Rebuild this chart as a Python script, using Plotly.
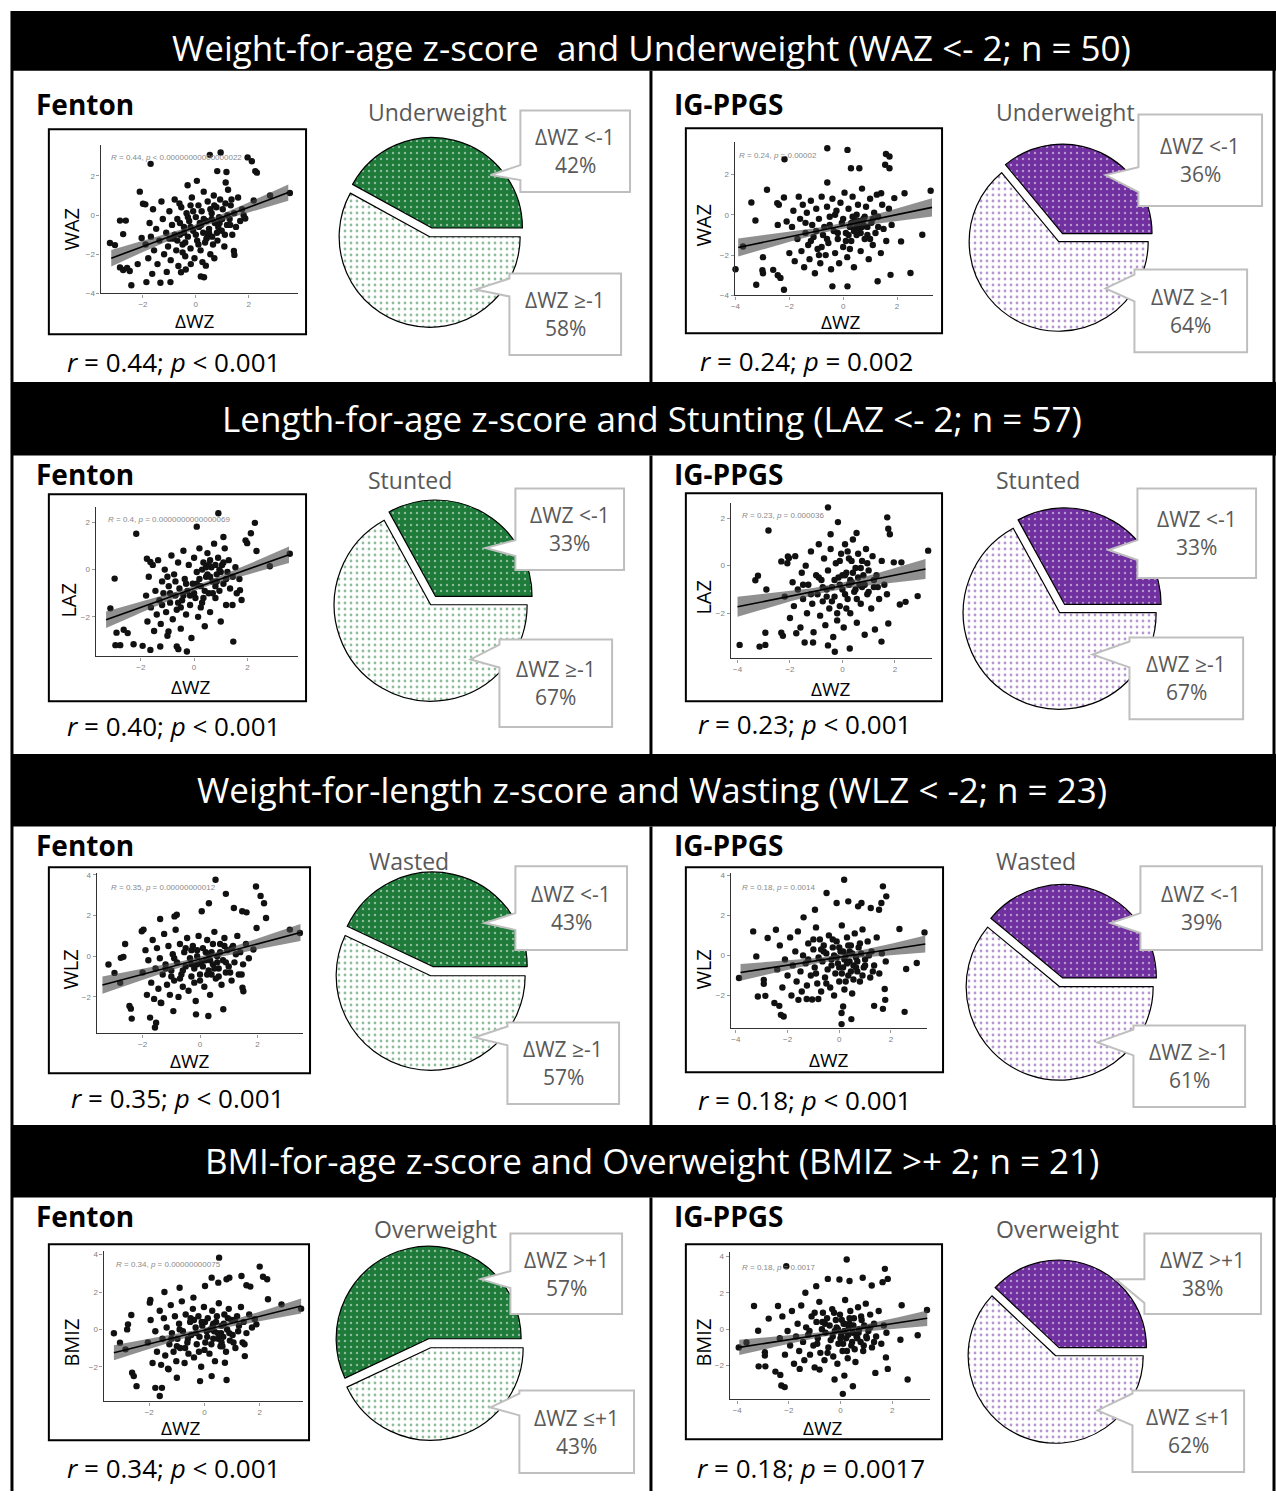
import numpy as np
import plotly.graph_objects as go

W, H = 1276, 1496

# ----------------------------- DATA -----------------------------
section_titles = [
    "Weight-for-age z-score&nbsp; and Underweight (WAZ &lt;- 2; n = 50)",
    "Length-for-age z-score and Stunting (LAZ &lt;- 2; n = 57)",
    "Weight-for-length z-score and Wasting (WLZ &lt; -2; n = 23)",
    "BMI-for-age z-score and Overweight (BMIZ &gt;+ 2; n = 21)",
]
panel_names = ["Fenton", "IG-PPGS"]
outcomes = ["WAZ", "LAZ", "WLZ", "BMIZ"]
pie_titles = ["Underweight", "Stunted", "Wasted", "Overweight"]
low_labels = ["ΔWZ &lt;-1", "ΔWZ &lt;-1", "ΔWZ &lt;-1", "ΔWZ &gt;+1"]
high_labels = ["ΔWZ ≥-1", "ΔWZ ≥-1", "ΔWZ ≥-1", "ΔWZ ≤+1"]
fenton_share = [42, 33, 43, 57]
ig_share = [36, 33, 39, 38]
fenton_stats = ["<i>r</i> = 0.44; <i>p</i> &lt; 0.001", "<i>r</i> = 0.40; <i>p</i> &lt; 0.001",
                "<i>r</i> = 0.35; <i>p</i> &lt; 0.001", "<i>r</i> = 0.34; <i>p</i> &lt; 0.001"]
ig_stats = ["<i>r</i> = 0.24; <i>p</i> = 0.002", "<i>r</i> = 0.23; <i>p</i> &lt; 0.001",
            "<i>r</i> = 0.18; <i>p</i> &lt; 0.001", "<i>r</i> = 0.18; <i>p</i> = 0.0017"]
fenton_R = ["<i>R</i> = 0.44, <i>p</i> &lt; 0.00000000000000022", "<i>R</i> = 0.4, <i>p</i> = 0.0000000000000069",
            "<i>R</i> = 0.35, <i>p</i> = 0.00000000012", "<i>R</i> = 0.34, <i>p</i> = 0.00000000075"]
ig_R = ["<i>R</i> = 0.24, <i>p</i> = 0.00002", "<i>R</i> = 0.23, <i>p</i> = 0.000036",
        "<i>R</i> = 0.18, <i>p</i> = 0.0014", "<i>R</i> = 0.18, <i>p</i> = 0.0017"]

# regression lines: [x_start, y_start, x_end, y_end]
fenton_fit = [[-3.2, -2.2, 3.5, 1.15], [-3.3, -2.12, 3.56, 0.63],
              [-3.4, -1.42, 3.5, 1.17], [-3.28, -1.25, 3.5, 1.25]]
ig_fit = [[-3.9, -1.62, 3.3, 0.37], [-4.0, -1.73, 3.17, -0.14],
          [-3.82, -0.85, 3.33, 0.57], [-3.92, -1.0, 3.36, 0.6]]
# confidence band half-width [at ends, at centre]
fenton_band = [[0.42, 0.12], [0.35, 0.1], [0.42, 0.12], [0.4, 0.12]]
ig_band = [[0.45, 0.14], [0.42, 0.13], [0.42, 0.12], [0.42, 0.12]]

# scatter points (ΔWZ, z-score)
fenton_waz = [
    (-3.25,-1.42),(-3.06,-1.53),(-2.87,-0.28),(-2.65,-0.28),(-2.75,-0.97),(-2.87,-2.67),(-2.75,-2.8),
    (-2.6,-2.7),(-2.5,-2.85),(-2.44,-3.58),(-2.12,1.2),(-2.0,0.58),(-1.91,0.55),(-2.2,-2.5),(-2.05,-1.17),
    (-1.87,-3.42),(-1.65,-3.0),(-1.34,-3.45),(-0.96,-3.42),(-0.56,-2.92),(-0.38,-2.78),(-0.19,-2.5),
    (0.19,-3.13),(0.31,-3.17),(0.38,-2.58),(1.44,-1.83),(1.46,-2.03),(1.81,0.0),(1.87,-0.17),(2.19,0.75),
    (2.81,1.0),(3.56,1.13),(-1.71,2.62),(0.53,3.08),(0.94,3.2),(1.96,2.95),(2.12,2.75),(2.25,2.25),
    (2.31,2.17),(0.81,2.25),(1.16,2.2),(1.13,1.67),(-0.31,1.53),(0.04,1.75),
    (-1.9,-1.5),(-1.8,-2.2),(-1.75,-0.4),(-1.7,-1.1),(-1.62,0.3),(-1.58,-1.8),(-1.5,-0.7),(-1.45,-2.5),
    (-1.38,-1.3),(-1.3,0.7),(-1.25,-0.2),(-1.2,-2.0),(-1.12,-0.9),(-1.05,-1.6),(-1.0,0.2),(-0.95,-2.3),
    (-0.9,-0.5),(-0.85,-1.2),(-0.8,0.8),(-0.74,-1.8),(-0.7,-0.2),(-0.66,-2.6),(-0.6,-1.0),(-0.55,0.4),
    (-0.5,-1.5),(-0.45,-0.6),(-0.4,-2.1),(-0.35,0.1),(-0.3,-1.1),(-0.25,-0.3),(-0.2,-1.7),(-0.15,0.9),
    (-0.1,-0.8),(-0.05,-2.2),(0.0,-0.1),(0.05,-1.3),(0.1,0.5),(0.12,-0.6),(0.18,-1.8),(0.22,0.2),
    (0.28,-0.9),(0.3,1.2),(0.35,-1.4),(0.4,-0.3),(0.45,0.7),(0.5,-0.7),(0.55,-2.0),(0.6,0.1),(0.62,-1.1),
    (0.68,1.0),(0.72,-0.4),(0.78,0.4),(0.82,-1.3),(0.88,-0.1),(0.92,0.8),(0.98,-0.8),(1.02,0.3),
    (1.08,-1.6),(1.12,0.6),(1.18,-0.5),(1.22,1.3),(1.28,-0.2),(1.32,0.5),(1.38,-1.0),(1.45,0.1),
    (1.52,-0.6),(1.6,0.9),(1.68,-0.3),(1.75,0.3),(-0.62,0.6),(0.25,-2.4),(-1.1,-2.9),(0.7,-2.2),
    (-0.2,0.5),(0.85,-0.6),(0.45,-1.1),(-0.45,-0.9),(0.15,-0.4),(0.55,0.3),
    (-0.8,-1.0),(-0.6,-0.4),(-0.4,-1.4),(-0.2,-0.6),(0.0,-1.0),(0.2,-0.5),(0.4,-1.2),(0.6,-0.2),
    (0.8,-0.9),(1.0,-0.2),(1.2,0.0),(-1.0,-1.2),(-0.3,-0.1),(0.1,-1.5),(0.5,-0.9),(0.7,0.5),(0.9,-0.4),
    (1.1,-1.0),(1.3,-0.5),(-0.5,-1.9),(-0.1,0.2),(0.3,-0.2),(-0.7,-1.3),(0.65,-1.5),(1.35,0.8),
]
ig_waz = [
    (-4.0,-2.7),(-3.72,-1.57),(-3.41,0.61),(-3.26,-0.28),(-3.23,-3.47),(-2.98,-2.1),(-3.0,-2.75),
    (-2.98,-2.9),(-2.83,1.24),(-2.6,-2.73),(-2.43,-3.0),(-2.33,-3.13),(-2.2,-3.72),(-2.18,2.76),
    (-2.45,0.58),(-2.39,0.5),(-2.2,0.86),(-2.1,-0.33),(-2.43,-0.5),(-0.59,3.3),(0.16,3.22),(-0.59,1.6),
    (0.29,2.31),(0.6,2.31),(1.59,3.02),(1.72,2.89),(1.56,2.48),(1.72,2.31),(2.28,1.07),(2.15,-1.32),
    (2.94,-0.99),(2.5,-2.89),(1.76,-2.98),(1.28,-3.3),(-0.4,-3.55),(0.16,-3.55),(3.25,1.19),(1.9,0.83),
    (1.41,1.07),
    (-2.0,-1.9),(-1.9,-0.6),(-1.85,0.2),(-1.8,-2.3),(-1.7,-1.2),(-1.65,0.9),(-1.6,-0.2),(-1.55,-1.8),
    (-1.5,0.5),(-1.45,-2.6),(-1.4,-0.9),(-1.35,0.1),(-1.3,-1.5),(-1.25,-2.2),(-1.2,0.7),(-1.15,-0.5),
    (-1.1,-1.1),(-1.05,-2.9),(-1.0,0.3),(-0.95,-1.7),(-0.9,-0.2),(-0.85,-2.4),(-0.8,0.9),(-0.75,-1.0),
    (-0.7,-0.6),(-0.65,-2.0),(-0.6,0.4),(-0.55,-1.4),(-0.5,-0.1),(-0.45,-2.7),(-0.4,0.8),(-0.35,-0.8),
    (-0.3,-1.9),(-0.25,0.2),(-0.2,-1.2),(-0.15,-2.4),(-0.1,0.6),(-0.05,-0.4),(0.0,-1.6),(0.05,1.1),
    (0.1,-0.9),(0.15,-2.1),(0.2,0.3),(0.25,-0.6),(0.3,-1.3),(0.35,0.9),(0.4,-2.6),(0.45,-0.3),(0.5,-1.0),
    (0.55,0.5),(0.6,-0.7),(0.65,-1.8),(0.7,1.3),(0.75,-0.2),(0.8,-1.2),(0.85,0.4),(0.9,-0.6),(0.95,-2.2),
    (1.0,0.8),(1.05,-0.4),(1.1,-1.5),(1.15,0.1),(1.2,-0.9),(1.25,1.0),(1.3,-0.1),(1.4,-1.9),(1.45,0.5),
    (1.5,-0.7),(1.6,-1.3),(1.7,0.3),(1.8,-0.5),(0.5,-0.5),(0.6,-0.3),(0.7,-0.6),(0.4,-0.8),
    (-1.2,-1.3),(-0.8,-1.6),(-0.5,-0.5),(-0.2,-0.9),(0.0,-0.2),(0.2,-1.0),(0.3,-0.4),(0.45,-0.7),
    (0.55,-0.4),(0.65,-0.9),(0.75,-0.5),(0.9,-1.0),(1.1,-0.2),(-1.0,-0.8),(-0.6,-1.2),(-0.3,0.0),
    (0.1,-1.3),(0.35,-0.1),(0.8,-0.1),(1.3,-0.6),(-1.4,-0.4),(-0.9,-2.0),(0.25,-1.7),(1.0,-1.2),(0.5,0.0),
]
fenton_laz = [
    (-2.98,-0.38),(-3.14,-1.64),(-2.95,-3.2),(-2.77,-3.2),(-2.91,-2.67),(-2.64,-2.55),(-2.49,-2.69),
    (-2.27,-3.16),(-1.93,-3.23),(-2.17,1.52),(0.1,1.82),(0.91,2.39),(2.28,1.98),(2.13,1.54),(1.93,1.24),
    (1.99,1.12),(1.47,-3.05),(2.34,0.79),(2.84,0.14),(3.59,0.67),(-0.65,-3.26),(-0.59,-3.37),(-0.27,-3.47),
    (-1.64,-3.4),(-1.27,-3.26),(-0.96,-2.62),(-1.77,0.46),(-1.64,0.32),(1.1,1.38),(1.72,-0.87),
    (1.78,-1.29),(1.44,-1.5),
    (-1.8,-1.1),(-1.75,-2.2),(-1.7,-0.3),(-1.62,-1.6),(-1.55,0.2),(-1.5,-2.6),(-1.45,-0.9),(-1.4,-1.9),
    (-1.35,0.4),(-1.3,-1.3),(-1.25,-2.3),(-1.2,-0.5),(-1.15,-1.0),(-1.1,0.0),(-1.05,-1.8),(-1.0,-2.8),
    (-0.95,-0.7),(-0.9,-1.4),(-0.85,0.6),(-0.8,-2.1),(-0.75,-0.2),(-0.7,-1.1),(-0.65,-1.7),(-0.6,0.3),
    (-0.55,-0.8),(-0.5,-2.5),(-0.45,-1.3),(-0.4,0.8),(-0.35,-0.4),(-0.3,-1.9),(-0.25,-0.9),(-0.2,0.2),
    (-0.15,-1.5),(-0.1,-2.9),(-0.05,-0.6),(0.0,0.5),(0.05,-1.2),(0.1,-0.1),(0.15,-2.0),(0.2,0.9),
    (0.25,-0.7),(0.3,-1.4),(0.35,0.3),(0.4,-2.4),(0.45,-0.3),(0.5,0.7),(0.55,-1.0),(0.6,-1.8),(0.65,0.1),
    (0.7,-0.5),(0.75,1.1),(0.8,-1.2),(0.85,-0.2),(0.9,0.5),(0.95,-0.9),(1.0,-2.2),(1.05,0.2),(1.1,-0.6),
    (1.15,0.9),(1.2,-1.5),(1.25,-0.1),(1.3,0.4),(1.35,-0.8),(1.45,-0.3),(1.55,0.1),(1.6,-1.0),(1.7,-0.4),
    (0.3,0.0),(0.5,-0.2),(0.8,0.2),(0.6,0.4),
    (-0.9,-1.0),(-0.6,-1.4),(-0.3,-0.6),(0.0,-1.0),(0.2,-0.4),(0.4,-0.9),(0.6,-0.3),(0.8,-0.7),
    (1.0,-0.1),(-1.2,-1.5),(-0.4,-1.1),(0.1,-0.6),(0.35,-1.2),(0.55,0.2),(0.7,-1.0),(0.95,0.0),
    (1.2,-0.4),(-0.7,-0.5),(-0.15,-1.1),(0.45,0.1),(0.85,-0.5),(-1.0,-0.3),(0.25,-1.6),(1.1,0.3),(-0.5,-1.6),
]
ig_laz = [
    (-3.92,-3.33),(-3.32,-0.61),(-3.22,-0.42),(-3.16,-3.4),(-2.94,-3.33),(-2.82,1.48),(-2.9,-1.0),
    (-2.94,-2.82),(-2.33,0.18),(-2.08,0.39),(-2.04,0.32),(-0.55,2.45),(-0.17,1.83),(-0.45,1.32),
    (0.54,1.37),(1.71,2.03),(1.75,1.55),(1.81,1.32),(3.27,0.63),(1.96,0.14),(2.25,0.14),(2.87,-1.28),
    (2.41,-1.52),(2.19,-1.63),(1.75,-2.43),(1.49,-3.19),(1.24,-2.68),(-0.55,-3.35),(-0.29,-3.62),
    (0.28,-3.48),(-1.12,-3.23),(-1.44,-3.23),(-1.76,-2.84),(-2.33,-2.82),(-2.27,-2.95),
    (-2.2,-1.3),(-2.1,0.1),(-2.0,-2.2),(-1.9,-0.7),(-1.85,-1.7),(-1.8,0.4),(-1.7,-1.0),(-1.6,-2.6),
    (-1.55,-0.3),(-1.5,-1.4),(-1.4,0.0),(-1.35,-2.0),(-1.3,-0.8),(-1.2,0.6),(-1.15,-1.6),(-1.1,-2.8),
    (-1.0,-0.4),(-0.95,-1.2),(-0.9,0.9),(-0.85,-2.1),(-0.8,-0.6),(-0.75,-1.5),(-0.7,0.3),(-0.65,-2.5),
    (-0.6,-1.0),(-0.55,-0.2),(-0.5,-1.8),(-0.45,0.7),(-0.4,-0.9),(-0.35,-3.0),(-0.3,-1.3),(-0.25,0.1),
    (-0.2,-2.3),(-0.15,-0.5),(-0.1,-1.7),(-0.05,0.5),(0.0,-1.0),(0.05,-2.6),(0.1,0.9),(0.15,-0.3),
    (0.2,-1.4),(0.25,0.3),(0.3,-2.0),(0.35,-0.7),(0.4,1.1),(0.45,-1.1),(0.5,-0.1),(0.55,-2.4),(0.6,0.5),
    (0.65,-0.8),(0.7,-1.6),(0.75,0.2),(0.8,-0.4),(0.85,-2.9),(0.9,0.7),(0.95,-1.2),(1.0,-0.2),
    (1.1,-1.8),(1.15,0.4),(1.2,-0.9),(1.3,-0.4),(1.4,-1.4),(1.5,0.2),(1.6,-0.8),(1.7,-1.2),(0.1,-0.4),
    (0.3,-0.6),(-0.1,0.2),(0.2,0.6),
    (-1.2,-1.2),(-0.9,-0.5),(-0.6,-1.3),(-0.3,-0.6),(0.0,-0.4),(0.1,-1.2),(0.25,-0.8),(0.4,-0.3),
    (0.5,-1.0),(0.6,-0.5),(0.7,-0.1),(0.85,-0.8),(1.0,-1.1),(-1.5,-0.8),(-0.75,-0.9),(-0.4,-1.5),
    (-0.1,-0.8),(0.35,0.2),(0.55,-1.4),(0.75,-0.9),(0.95,0.1),(1.2,-0.6),(-0.2,-2.0),(0.15,-1.8),(1.35,-0.9),
]
fenton_wlz = [
    (-3.19,-0.41),(-2.98,-0.82),(-2.78,-1.31),(-2.76,-0.08),(-2.67,-0.03),(-2.61,0.6),(-2.46,-2.45),
    (-2.41,-2.58),(-2.38,-3.07),(-2.03,1.23),(-1.97,1.31),(-1.74,-3.02),(-1.53,-3.27),(-1.57,-3.51),
    (-1.39,1.83),(-0.89,1.96),(-0.81,2.04),(0.54,3.76),(0.9,3.07),(0.31,2.61),(0.06,2.21),(1.18,2.37),
    (1.47,2.21),(1.62,2.16),(1.95,3.43),(2.11,2.97),(2.23,2.61),(2.3,1.88),(3.13,1.31),(3.48,1.14),
    (1.86,0.33),(1.97,1.39),(1.48,-1.55),(1.51,-1.72),(0.81,-2.61),(0.29,-2.94),(-0.14,-2.86),
    (-0.93,-2.7),(-1.37,-2.29),
    (-2.0,-0.8),(-1.9,0.3),(-1.85,-1.9),(-1.8,-0.2),(-1.7,-1.3),(-1.65,0.8),(-1.6,-2.1),(-1.55,-0.6),
    (-1.5,0.4),(-1.45,-1.6),(-1.4,-0.1),(-1.35,-2.3),(-1.3,-0.9),(-1.25,1.1),(-1.2,-0.4),(-1.15,-1.4),
    (-1.1,0.5),(-1.05,-1.9),(-1.0,-0.7),(-0.95,0.1),(-0.9,-1.2),(-0.85,1.3),(-0.8,-0.3),(-0.75,-2.0),
    (-0.7,0.6),(-0.65,-0.9),(-0.6,-1.5),(-0.55,0.2),(-0.5,-0.5),(-0.45,0.9),(-0.4,-1.7),(-0.35,-0.1),
    (-0.3,-1.0),(-0.25,0.5),(-0.2,-0.6),(-0.15,-2.2),(-0.1,0.0),(-0.05,1.0),(0.0,-0.9),(0.05,-0.3),
    (0.1,0.4),(0.15,-1.5),(0.2,-0.2),(0.25,0.8),(0.3,-0.7),(0.35,-1.9),(0.4,0.2),(0.45,-0.4),(0.5,1.2),
    (0.55,-1.1),(0.6,0.0),(0.65,-0.6),(0.7,0.6),(0.75,-1.4),(0.8,-0.2),(0.85,0.9),(0.9,-0.8),(0.95,0.3),
    (1.0,-0.5),(1.1,-1.2),(1.15,0.5),(1.2,-0.3),(1.3,1.0),(1.35,-0.9),(1.4,0.2),(1.5,-0.4),(1.6,0.6),
    (1.7,-0.1),(-0.1,-0.4),(0.2,0.2),(0.4,-0.9),(-0.3,0.3),
    (-1.2,-0.6),(-0.9,-0.1),(-0.6,-0.7),(-0.3,-0.4),(-0.1,0.3),(0.1,-0.5),(0.3,0.1),(0.5,-0.6),
    (0.7,0.2),(0.9,-0.3),(1.1,0.4),(-1.0,-1.0),(-0.5,0.4),(0.0,-1.2),(0.25,-0.9),(0.45,0.6),(0.65,-1.0),
    (0.85,0.5),(1.05,-0.8),(1.25,0.1),(-0.7,-1.1),(-0.2,-1.3),(0.35,-0.2),(0.6,-0.3),(1.45,-0.9),
]
ig_wlz = [
    (-3.88,-1.13),(-3.33,1.2),(-3.21,-0.05),(-3.15,-2.05),(-2.86,-2.02),(-2.77,0.87),(-2.92,-1.22),
    (-2.92,-1.42),(-2.51,-2.38),(-2.32,-2.52),(-2.26,-2.97),(-2.15,-3.05),(-2.45,1.28),(-1.38,1.9),
    (-0.94,2.28),(-0.49,3.12),(0.19,3.78),(-0.1,2.62),(0.35,2.7),(0.73,2.45),(0.86,2.62),(1.22,2.37),
    (1.69,3.45),(1.82,2.95),(1.63,2.62),(1.54,2.28),(2.33,1.32),(3.3,1.15),(3.0,-0.38),(2.59,-0.68),
    (2.53,-2.82),(1.76,-1.68),(1.78,-2.22),(1.69,-2.67),(1.35,-2.52),(0.09,-2.88),(0.09,-3.43),
    (0.47,-3.18),(0.15,-2.55),(-0.81,-2.18),(-1.58,-2.22),(-1.26,-2.18),
    (-2.4,-0.7),(-2.3,0.5),(-2.2,-1.6),(-2.1,-0.2),(-2.0,-1.0),(-1.9,0.9),(-1.85,-2.0),(-1.8,-0.5),
    (-1.7,0.2),(-1.65,-1.3),(-1.6,1.2),(-1.5,-0.8),(-1.45,-1.8),(-1.4,0.0),(-1.3,-0.4),(-1.25,-1.5),
    (-1.2,0.6),(-1.1,-1.0),(-1.05,-2.2),(-1.0,0.3),(-0.95,-0.6),(-0.9,1.4),(-0.85,-1.4),(-0.8,-0.1),
    (-0.75,0.8),(-0.7,-1.8),(-0.65,-0.3),(-0.6,0.5),(-0.55,-1.1),(-0.5,0.1),(-0.45,-0.7),(-0.4,1.0),
    (-0.35,-1.6),(-0.3,-0.2),(-0.25,0.4),(-0.2,-2.0),(-0.15,-0.9),(-0.1,0.7),(-0.05,-0.4),(0.0,-1.3),
    (0.05,0.2),(0.1,1.5),(0.15,-0.6),(0.2,-1.7),(0.25,0.0),(0.3,0.9),(0.35,-1.0),(0.4,-0.3),(0.45,0.5),
    (0.5,-1.9),(0.55,-0.5),(0.6,1.1),(0.65,-0.1),(0.7,-0.8),(0.75,0.4),(0.8,-1.3),(0.85,0.1),(0.9,1.3),
    (0.95,-0.6),(1.0,-0.2),(1.1,0.7),(1.2,-1.1),(1.25,0.2),(1.35,-0.5),(1.45,0.9),(1.55,-0.9),
    (1.65,0.1),(1.8,-0.3),(0.2,-0.2),(0.4,0.2),(0.0,0.4),(-0.2,0.0),
    (-1.2,-0.2),(-0.9,-0.9),(-0.6,0.2),(-0.3,-0.5),(0.0,-0.6),(0.15,0.2),(0.3,-0.4),(0.5,0.1),
    (0.65,-0.6),(0.8,0.6),(1.0,-0.5),(-1.0,0.8),(-0.5,-1.4),(-0.1,-0.1),(0.1,-0.9),(0.35,0.5),(0.55,-1.2),
    (0.7,-0.3),(0.9,-1.0),(1.15,0.0),(-0.7,0.3),(-0.25,0.8),(0.25,-1.3),(0.45,-0.8),(1.3,-0.8),
]
fenton_bmiz = [
    (-3.28,-0.21),(-3.06,-0.71),(-2.86,-1.07),(-2.8,0.0),(-2.77,0.27),(-2.65,0.77),(-2.62,-2.32),
    (-2.56,-2.5),(-2.46,-3.04),(-1.98,1.43),(-1.96,1.57),(-1.78,-3.13),(-1.54,-3.13),(-1.62,-3.57),
    (-1.45,2.0),(-0.9,2.23),(-0.4,1.7),(0.53,3.84),(0.26,2.77),(0.02,2.32),(0.5,2.5),(0.8,2.68),
    (0.9,2.77),(1.34,2.86),(1.52,2.36),(1.66,2.29),(2.0,3.36),(2.12,2.82),(2.27,2.68),(2.3,1.61),
    (2.79,1.34),(3.5,1.11),(1.82,0.54),(1.88,0.27),(1.46,-1.43),(0.74,-1.79),(0.8,-2.71),(0.26,-2.5),
    (-0.16,-2.77),(-1.0,-2.59),(-1.3,-2.14),
    (-2.05,-0.7),(-1.95,0.5),(-1.88,-1.8),(-1.78,-0.1),(-1.72,-1.2),(-1.62,1.0),(-1.57,-1.9),
    (-1.52,-0.5),(-1.47,0.6),(-1.42,-1.4),(-1.37,0.1),(-1.32,-2.1),(-1.27,-0.8),(-1.22,1.3),(-1.18,-0.2),
    (-1.12,-1.2),(-1.07,0.7),(-1.02,-1.7),(-0.98,-0.5),(-0.92,0.3),(-0.88,-1.0),(-0.82,1.5),(-0.78,-0.1),
    (-0.72,-1.8),(-0.68,0.8),(-0.62,-0.7),(-0.58,-1.3),(-0.52,0.4),(-0.48,-0.3),(-0.42,1.1),(-0.38,-1.5),
    (-0.32,0.1),(-0.28,-0.8),(-0.22,0.7),(-0.18,-0.4),(-0.12,-2.0),(-0.08,0.2),(-0.02,1.2),(0.03,-0.7),
    (0.08,-0.1),(0.12,0.6),(0.18,-1.3),(0.22,0.0),(0.28,1.0),(0.32,-0.5),(0.38,-1.7),(0.42,0.4),
    (0.48,-0.2),(0.52,1.4),(0.58,-0.9),(0.62,0.2),(0.68,-0.4),(0.72,0.8),(0.78,-1.2),(0.82,0.0),
    (0.88,1.1),(0.92,-0.6),(0.98,0.5),(1.02,-0.3),(1.12,-1.0),(1.18,0.7),(1.22,-0.1),(1.32,1.2),
    (1.38,-0.7),(1.42,0.4),(1.52,-0.2),(1.62,0.8),(1.72,0.1),(0.02,0.4),(0.32,0.3),(0.62,-0.7),(-0.38,0.5),
    (-1.2,-0.5),(-0.9,0.0),(-0.6,-0.5),(-0.3,-0.2),(-0.1,0.4),(0.1,-0.4),(0.3,0.2),(0.5,-0.5),
    (0.7,0.3),(0.9,-0.2),(1.1,0.5),(-1.0,-0.9),(-0.5,0.6),(0.0,-1.1),(0.25,-0.8),(0.45,0.7),(0.65,-0.9),
    (0.85,0.6),(1.05,-0.7),(1.25,0.2),(-0.7,-1.0),(-0.2,-1.2),(0.35,-0.1),(0.6,-0.2),(1.45,-0.8),
]
ig_bmiz = [
    (-3.94,-1.0),(-3.64,-0.73),(-3.35,1.27),(-3.19,-0.09),(-3.17,-2.04),(-2.91,-2.04),(-2.93,-1.27),
    (-2.93,-1.45),(-2.78,0.58),(-2.52,-2.33),(-2.33,-2.51),(-2.29,-3.09),(-2.16,-3.18),(-2.42,1.27),
    (-2.1,3.45),(-1.36,2.0),(-0.94,2.36),(-0.49,2.76),(0.24,3.82),(-0.04,2.73),(0.35,2.64),(0.86,2.82),
    (1.21,2.4),(1.72,3.31),(1.83,2.76),(1.63,2.58),(2.37,1.31),(3.35,1.05),(2.99,-0.33),(2.32,-0.58),
    (2.6,-2.76),(1.76,-1.55),(1.83,-2.18),(1.35,-2.4),(0.09,-3.55),(0.48,-3.13),(0.15,-2.55),
    (-0.23,-2.76),(-0.81,-2.22),(-1.58,-2.18),
    (-2.35,-0.5),(-2.25,0.7),(-2.15,-1.4),(-2.05,-0.1),(-1.95,-0.9),(-1.88,1.0),(-1.8,-1.9),(-1.72,-0.4),
    (-1.66,0.3),(-1.6,-1.2),(-1.52,1.3),(-1.45,-0.7),(-1.4,-1.7),(-1.33,0.1),(-1.25,-0.3),(-1.18,-1.4),
    (-1.12,0.7),(-1.05,-0.9),(-1.0,-2.1),(-0.93,0.4),(-0.88,-0.5),(-0.82,1.5),(-0.78,-1.3),(-0.72,0.0),
    (-0.68,0.9),(-0.62,-1.7),(-0.58,-0.2),(-0.52,0.6),(-0.47,-1.0),(-0.42,0.2),(-0.38,-0.6),(-0.32,1.1),
    (-0.28,-1.5),(-0.22,-0.1),(-0.18,0.5),(-0.12,-1.9),(-0.08,-0.8),(-0.02,0.8),(0.03,-0.3),(0.08,-1.2),
    (0.12,0.3),(0.18,1.6),(0.22,-0.5),(0.28,-1.6),(0.32,0.1),(0.38,1.0),(0.42,-0.9),(0.48,-0.2),
    (0.52,0.6),(0.58,-1.8),(0.62,-0.4),(0.68,1.2),(0.72,0.0),(0.78,-0.7),(0.82,0.5),(0.88,-1.2),
    (0.92,0.2),(0.98,1.4),(1.02,-0.5),(1.08,-0.1),(1.15,0.8),(1.22,-1.0),(1.3,0.3),(1.38,-0.4),
    (1.48,1.0),(1.58,-0.8),(1.68,0.2),(1.78,-0.2),(0.15,-0.1),(0.35,0.3),(0.05,0.5),(-0.15,0.1),
    (-1.2,-0.1),(-0.9,-0.8),(-0.6,0.3),(-0.3,-0.4),(0.0,-0.5),(0.15,0.3),(0.3,-0.3),(0.5,0.2),
    (0.65,-0.5),(0.8,0.7),(1.0,-0.4),(-1.0,0.9),(-0.5,-1.3),(-0.1,0.0),(0.1,-0.8),(0.35,0.6),(0.55,-1.1),
    (0.7,-0.2),(0.9,-0.9),(1.15,0.1),(-0.7,0.4),(-0.25,0.9),(0.25,-1.2),(0.45,-0.7),(1.3,-0.7),
]
fenton_points = [fenton_waz, fenton_laz, fenton_wlz, fenton_bmiz]
ig_points = [ig_waz, ig_laz, ig_wlz, ig_bmiz]

# --------------------------- GEOMETRY (pixels) ---------------------------
header_bands = [(8, 68), (381, 455), (755, 828), (1128, 1201)]
header_text_y = [45, 418, 791, 1164]
name_y = [102, 474, 847, 1220]
frames = [(45,127,303,333),(684,126,941,332),(45,494,303,702),(684,493,941,702),
          (45,869,307,1076),(684,869,942,1075),(45,1248,306,1445),(684,1248,941,1444)]
plot_dom = [(97,295,143,292),(733,932,140,294),(92,295,507,657),(729,931,503,659),
            (93,300,875,1036),(729,926,875,1031),(100,300,1255,1406),(728,929,1256,1404)]
x_rng = [(-3.6,3.87),(-4.03,3.34),(-3.69,3.9),(-4.26,3.42),(-3.6,3.59),(-4.2,3.4),(-3.65,3.57),(-4.29,3.47)]
y_rng = [(-4.0,3.57),(-4.0,3.6),(-3.68,2.64),(-3.9,2.62),(-3.8,4.08),(-3.65,4.1),(-3.86,4.18),(-3.86,4.22)]
y_ticks = [[-4,-2,0,2],[-2,0,2],[-2,0,2,4],[-2,0,2,4]]
x_ticks = [[-2,0,2],[-4,-2,0,2]]
R_pos = [(105,155),(735,153),(102,519),(738,515),(105,889),(738,889),(110,1268),(738,1271)]
ylab_pos = [(68,227),(702,223),(65,600),(702,597),(67,972),(702,972),(68,1347),(702,1347)]
xlab_pos = [(192,320),(840,321),(188,688),(830,690),(187,1064),(828,1063),(178,1433),(822,1433)]
stat_pos = [(170,361),(805,360),(170,727),(803,725),(174,1101),(803,1103),(170,1473),(810,1473)]
pie_geo = [(427,235,91),(1058,240,90),(428,605,97),(1059,613,97),
           (428,978,95),(1059,989,94),(428,1352,93),(1055,1360,88)]
pie_title_pos = [(435,110),(1065,110),(407,480),(1037,480),(406,863),(1035,863),(433,1233),(1057,1233)]
# callout boxes: x0, y0, x1, y1, tip_x, tip_y, attach_y0, attach_y1 ; [low box, high box]
boxes = [
    [(518,108,628,190,488,173,163,178), (507,272,619,354,473,288,277,295)],
    [(1138,112,1262,204,1105,173,165,190), (1134,268,1247,351,1105,287,273,300)],
    [(513,488,622,570,483,548,540,556), (497,640,610,728,468,660,645,668)],
    [(1137,488,1256,578,1108,550,540,560), (1129,638,1243,720,1092,655,642,668)],
    [(513,868,625,952,482,925,915,932), (505,1025,617,1107,472,1040,1029,1048)],
    [(1140,868,1262,952,1110,925,915,935), (1133,1028,1245,1110,1097,1045,1032,1058)],
    [(508,1237,620,1318,478,1283,1275,1292), (517,1395,632,1478,488,1412,1398,1420)],
    [(1144,1237,1261,1318,1115,1283,1283,1307), (1132,1395,1244,1477,1097,1415,1398,1430)],
]
GREEN = "#1e7b3a"
PURPLE = "#7030a0"
GREY_TXT = "#595959"
FONT = "Open Sans"


def fx(x):
    return x / W


def fy(y):
    return 1 - y / H


def pp(x, y):
    return f"{fx(x):.5f},{fy(y):.5f}"


def note(x, y, text, size, color, xanchor="center", family=FONT, angle=0):
    return dict(x=fx(x), y=fy(y), xref="paper", yref="paper", text=text, showarrow=False,
                xanchor=xanchor, yanchor="middle", textangle=angle,
                font=dict(size=size, color=color, family=family))


fig = go.Figure()
shapes, annots = [], []
layout_axes = {}

for row in range(4):
    for side in range(2):
        k = row * 2 + side
        pts = (fenton_points if side == 0 else ig_points)[row]
        fit = (fenton_fit if side == 0 else ig_fit)[row]
        band = (fenton_band if side == 0 else ig_band)[row]
        n = k + 1
        xa, ya = ("x", "y") if n == 1 else (f"x{n}", f"y{n}")
        xs = [p[0] for p in pts]
        ys = [p[1] for p in pts]
        fig.add_trace(go.Scatter(x=xs, y=ys, mode="markers", xaxis=xa, yaxis=ya,
                                 marker=dict(color="#111111", size=6.4), cliponaxis=False,
                                 hoverinfo="skip", showlegend=False))
        x0, y0, x1, y1 = fit
        xx = np.linspace(x0, x1, 40)
        yy = y0 + (y1 - y0) * (xx - x0) / (x1 - x0)
        xc, half = (x0 + x1) / 2, (x1 - x0) / 2
        hw = np.sqrt(band[1] ** 2 + (band[0] ** 2 - band[1] ** 2) * ((xx - xc) / half) ** 2)
        fig.add_trace(go.Scatter(x=np.concatenate([xx, xx[::-1]]),
                                 y=np.concatenate([yy + hw, (yy - hw)[::-1]]),
                                 fill="toself", fillcolor="rgba(70,70,70,0.6)", mode="lines",
                                 line=dict(width=0), xaxis=xa, yaxis=ya, hoverinfo="skip", showlegend=False))
        fig.add_trace(go.Scatter(x=[x0, x1], y=[y0, y1], mode="lines", line=dict(color="black", width=1.6),
                                 xaxis=xa, yaxis=ya, hoverinfo="skip", showlegend=False))
        L, R, T, B = plot_dom[k]
        common = dict(showline=True, linecolor="#333333", linewidth=1.4, showgrid=False, zeroline=False,
                      ticks="outside", ticklen=3, tickcolor="#999999",
                      tickfont=dict(size=8, color="#808080", family="Liberation Sans"))
        layout_axes["xaxis" if n == 1 else f"xaxis{n}"] = dict(
            domain=[fx(L), fx(R)], range=list(x_rng[k]), anchor=ya, tickvals=x_ticks[side], **common)
        layout_axes["yaxis" if n == 1 else f"yaxis{n}"] = dict(
            domain=[fy(B), fy(T)], range=list(y_rng[k]), anchor=xa, tickvals=y_ticks[row], **common)

        fx0, fy0, fx1, fy1 = frames[k]
        shapes.append(dict(type="rect", xref="paper", yref="paper", x0=fx(fx0), x1=fx(fx1),
                           y0=fy(fy1), y1=fy(fy0), line=dict(color="black", width=2)))
        rt = (fenton_R if side == 0 else ig_R)[row]
        annots.append(note(R_pos[k][0], R_pos[k][1], rt, 8, "#8a8a8a", xanchor="left", family="Liberation Sans"))
        annots.append(note(ylab_pos[k][0], ylab_pos[k][1], outcomes[row], 20, "black", angle=-90))
        annots.append(note(xlab_pos[k][0], xlab_pos[k][1], "ΔWZ", 19, "black"))
        st = (fenton_stats if side == 0 else ig_stats)[row]
        annots.append(note(stat_pos[k][0], stat_pos[k][1], st, 26, "black"))

        # pie: the "low" group slice is pulled out and spans from 3 o'clock anticlockwise
        share = (fenton_share if side == 0 else ig_share)[row]
        col = GREEN if side == 0 else PURPLE
        cx, cy, r = pie_geo[k]
        pull = 0.1
        hs = r * (1 + pull)
        fig.add_trace(go.Pie(values=[100 - share, share], labels=[high_labels[row], low_labels[row]],
                             sort=False, direction="clockwise", rotation=90, pull=[0, pull],
                             domain=dict(x=[fx(cx - hs), fx(cx + hs)], y=[fy(cy + hs), fy(cy - hs)]),
                             marker=dict(colors=["white", col], line=dict(color="black", width=1.2),
                                         pattern=dict(shape=".", fillmode="overlay",
                                                      fgcolor=[col, "white"], size=6,
                                                      solidity=[0.17, 0.12])),
                             textinfo="none", hoverinfo="skip", showlegend=False))
        annots.append(note(pie_title_pos[k][0], pie_title_pos[k][1], pie_titles[row], 23, GREY_TXT))
        for bi, (bx0, by0, bx1, by1, tx, ty, a0, a1) in enumerate(boxes[k]):
            path = (f"M{pp(bx0, by0)} L{pp(bx1, by0)} L{pp(bx1, by1)} L{pp(bx0, by1)} "
                    f"L{pp(bx0, a1)} L{pp(tx, ty)} L{pp(bx0, a0)} Z")
            shapes.append(dict(type="path", xref="paper", yref="paper", path=path,
                               fillcolor="white", line=dict(color="#bfbfbf", width=2)))
            mx, my = (bx0 + bx1) / 2, (by0 + by1) / 2
            lab = low_labels[row] if bi == 0 else high_labels[row]
            pct = share if bi == 0 else 100 - share
            annots.append(note(mx, my - 14, lab, 21, GREY_TXT))
            annots.append(note(mx, my + 14, f"{pct}%", 21, GREY_TXT))

    t0, t1 = header_bands[row]
    shapes.append(dict(type="rect", xref="paper", yref="paper", x0=fx(7), x1=1, y0=fy(t1), y1=fy(t0),
                       fillcolor="black", line=dict(width=0), layer="below"))
    annots.append(note(650, header_text_y[row], section_titles[row], 35, "white"))
    for side, xx0 in enumerate([30, 670]):
        annots.append(note(xx0, name_y[row], f"<b>{panel_names[side]}</b>", 28, "black", xanchor="left"))
    nxt = header_bands[row + 1][0] if row < 3 else H
    shapes.append(dict(type="line", xref="paper", yref="paper", x0=fx(649), x1=fx(649),
                       y0=fy(t1), y1=fy(nxt), line=dict(color="black", width=3)))

shapes.append(dict(type="line", xref="paper", yref="paper", x0=fx(8), x1=fx(8), y0=fy(8), y1=0,
                   line=dict(color="black", width=3)))
shapes.append(dict(type="line", xref="paper", yref="paper", x0=fx(1274), x1=fx(1274), y0=fy(8), y1=0,
                   line=dict(color="black", width=3)))

fig.update_layout(width=W, height=H, margin=dict(l=0, r=0, t=0, b=0),
                  paper_bgcolor="white", plot_bgcolor="rgba(0,0,0,0)",
                  shapes=shapes, annotations=annots, showlegend=False, **layout_axes)
fig.write_html("out.html", config={"displayModeBar": False},
               post_script="document.body.style.margin='0px';document.body.style.overflow='hidden';")
